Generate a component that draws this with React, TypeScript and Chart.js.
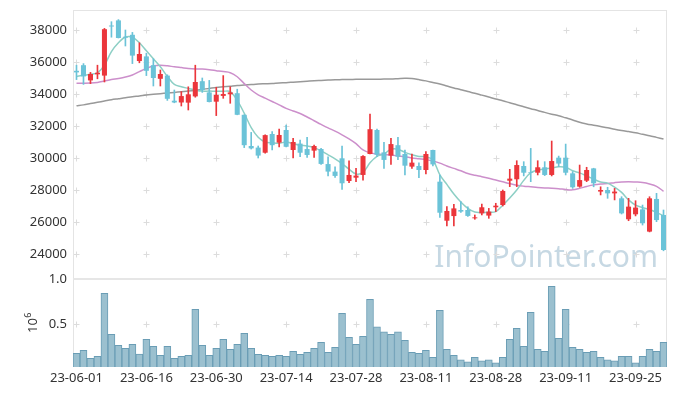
import React, { useEffect, useRef } from 'react';
import { Chart, registerables } from 'chart.js';

Chart.register(...registerables);

const DATES = [
  '23-06-01', '23-06-02', '23-06-05', '23-06-07', '23-06-08', '23-06-09', '23-06-12', '23-06-13', '23-06-14', '23-06-15',
  '23-06-16', '23-06-19', '23-06-20', '23-06-21', '23-06-22', '23-06-23', '23-06-26', '23-06-27', '23-06-28', '23-06-29',
  '23-06-30', '23-07-03', '23-07-04', '23-07-05', '23-07-06', '23-07-07', '23-07-10', '23-07-11', '23-07-12', '23-07-13',
  '23-07-14', '23-07-17', '23-07-18', '23-07-19', '23-07-20', '23-07-21', '23-07-24', '23-07-25', '23-07-26', '23-07-27',
  '23-07-28', '23-07-31', '23-08-01', '23-08-02', '23-08-03', '23-08-04', '23-08-07', '23-08-08', '23-08-09', '23-08-10',
  '23-08-11', '23-08-14', '23-08-16', '23-08-17', '23-08-18', '23-08-21', '23-08-22', '23-08-23', '23-08-24', '23-08-25',
  '23-08-28', '23-08-29', '23-08-30', '23-08-31', '23-09-01', '23-09-04', '23-09-05', '23-09-06', '23-09-07', '23-09-08',
  '23-09-11', '23-09-12', '23-09-13', '23-09-14', '23-09-15', '23-09-18', '23-09-19', '23-09-20', '23-09-21', '23-09-22',
  '23-09-25', '23-09-26', '23-09-27', '23-10-04', '23-10-05',
];

const OPEN = [
  35450, 35800, 34850, 35230, 35150, 38280, 38600, 37580, 37700, 36060,
  36350, 35800, 34950, 35150, 33580, 33470, 33460, 33850, 34800, 34100,
  33520, 33880, 33980, 34050, 32700, 30750, 30650, 30330, 31500, 30960,
  31750, 30500, 30900, 30560, 30460, 30560, 29620, 29150, 29980, 28560,
  28770, 28940, 30250, 31750, 30350, 30150, 30800, 30250, 29460, 29500,
  29250, 30500, 28520, 26080, 26370, 26750, 26750, 26230, 26540, 26400,
  26920, 27060, 28580, 28670, 29500, 29120, 29080, 29420, 28940, 30020,
  30020, 29040, 28210, 28580, 29350, 27900, 28000, 27790, 27480, 26170,
  26480, 26790, 25400, 27440, 26440,
];
const HIGH = [
  35800, 35900, 35350, 35800, 38100, 38520, 38650, 38000, 37850, 37200,
  36550, 36200, 35500, 35200, 34250, 34150, 34450, 35800, 35000, 34850,
  34420, 35150, 34450, 34300, 32700, 31600, 30750, 31450, 31650, 31800,
  32050, 31230, 31120, 31290, 30800, 30600, 30080, 29450, 30750, 29830,
  29350, 30150, 32750, 31800, 30980, 31230, 31290, 30500, 30250, 29700,
  30400, 30500, 28940, 26960, 27100, 27270, 26950, 26440, 27120, 26850,
  27170, 28000, 29290, 29830, 29770, 30600, 29830, 29770, 31060, 30120,
  30870, 29150, 29560, 29420, 29360, 28200, 28170, 28100, 27580, 27480,
  27330, 27060, 27580, 27790, 26750,
];
const LOW = [
  34900, 34600, 34650, 34950, 34750, 37550, 37500, 37000, 35900, 35950,
  35150, 34500, 34500, 33600, 33450, 33250, 33000, 33800, 34100, 33500,
  32650, 33730, 33420, 32700, 30650, 30560, 30000, 30300, 30500, 30700,
  30700, 30000, 30080, 30040, 30040, 29600, 28880, 28790, 28040, 28460,
  28520, 28620, 30250, 30080, 29350, 29600, 29900, 28940, 29350, 28770,
  29000, 29500, 26290, 25750, 25750, 26600, 26350, 26170, 26440, 26230,
  26650, 27000, 28210, 28210, 28880, 28520, 28940, 28900, 28880, 29460,
  28940, 28100, 28170, 28520, 28200, 27690, 27480, 27380, 26500, 26080,
  26380, 25810, 25380, 26020, 24200,
];
const CLOSE = [
  35350, 35100, 35250, 35330, 38050, 38220, 37500, 37520, 36400, 36500,
  35450, 35000, 35250, 33700, 33470, 33870, 33980, 34750, 34250, 33500,
  33940, 34000, 34100, 32700, 30800, 30600, 30150, 31430, 30800, 31440,
  30700, 31000, 30330, 30190, 30750, 29630, 29150, 28880, 28420, 28940,
  28900, 30120, 31800, 30200, 29880, 30870, 30080, 29520, 29710, 29250,
  30250, 29600, 26580, 26690, 26850, 26650, 26380, 26290, 26920, 26650,
  27020, 27940, 28710, 29560, 29080, 29080, 29420, 28940, 29810, 29650,
  29080, 28170, 28620, 29250, 28420, 28000, 27790, 27900, 26540, 26960,
  26900, 25920, 27480, 26120, 24250,
];

// trading volume, in units of 10^6 shares
const VOLUME = [
  0.18, 0.213, 0.125, 0.147, 0.842, 0.39, 0.268, 0.235, 0.279, 0.172,
  0.334, 0.257, 0.158, 0.257, 0.125, 0.147, 0.158, 0.665, 0.268, 0.158,
  0.235, 0.334, 0.224, 0.279, 0.40, 0.235, 0.169, 0.158, 0.147, 0.158,
  0.147, 0.202, 0.169, 0.191, 0.235, 0.301, 0.191, 0.246, 0.621, 0.356,
  0.279, 0.367, 0.776, 0.471, 0.416, 0.39, 0.416, 0.323, 0.191, 0.18,
  0.213, 0.136, 0.654, 0.224, 0.158, 0.109, 0.087, 0.136, 0.098, 0.109,
  0.076, 0.136, 0.334, 0.456, 0.257, 0.632, 0.224, 0.202, 0.919, 0.345,
  0.665, 0.246, 0.224, 0.191, 0.202, 0.136, 0.109, 0.098, 0.147, 0.147,
  0.076, 0.147, 0.224, 0.202, 0.301,
];

const MA5 = [
  35100, 35170, 35230, 35320, 35800, 36650, 37200, 37560, 37550, 37200,
  36700, 36200, 35700, 35100, 34600, 34450, 34350, 34250, 34180, 34180,
  34170, 34170, 34150, 33600, 32800, 31900, 31300, 31000, 30950, 30920,
  31000, 30900, 30800, 30750, 30650, 30450, 30200, 29950, 29650, 29300,
  29000, 29100, 29700, 30100, 30250, 30550, 30550, 30350, 30200, 30100,
  30080, 29880, 28950, 28350, 27750, 27250, 26850, 26620, 26600, 26610,
  26650, 27050, 27500, 28000, 28600, 29080, 29250, 29320, 29380, 29450,
  29420, 29200, 29070, 28880, 28680, 28500, 28430, 28180, 27850, 27380,
  27050, 26900, 26780, 26600, 26380,
];
const MA20 = [
  34670, 34670, 34680, 34720, 34810, 34900, 34970, 35060, 35190, 35400,
  35600, 35750, 35790, 35760, 35700, 35650, 35600, 35570, 35560, 35520,
  35460, 35400, 35330, 35080, 34650, 34250, 33950, 33740, 33530, 33320,
  33100, 32940, 32780, 32560, 32330, 32100, 31880, 31680, 31450, 31200,
  30900, 30500, 30320, 30250, 30210, 30180, 30130, 30080, 30000, 29950,
  29900, 29820, 29680, 29500, 29350, 29200, 29030, 28920, 28830, 28730,
  28620, 28510, 28400, 28300, 28240, 28200, 28160, 28130, 28110, 28080,
  28030, 28010, 28100, 28220, 28320, 28380, 28410, 28460, 28500, 28520,
  28500, 28470, 28380, 28230, 27920,
];
const MA120 = [
  33270, 33320, 33400, 33480, 33560, 33640, 33700, 33760, 33830, 33880,
  33940, 33980, 34020, 34060, 34100, 34140, 34180, 34230, 34290, 34350,
  34410, 34450, 34490, 34530, 34560, 34590, 34620, 34640, 34660, 34690,
  34710, 34740, 34770, 34800, 34830, 34850, 34870, 34890, 34900, 34910,
  34915, 34920, 34920, 34925, 34930, 34940, 34960, 34980, 34970, 34900,
  34820, 34720, 34620, 34500, 34380, 34270, 34150, 34050, 33930, 33810,
  33690, 33580, 33450, 33330, 33200, 33080, 32970, 32850, 32740, 32640,
  32510, 32380, 32230, 32130, 32050, 31970, 31890, 31800, 31720, 31650,
  31580, 31480, 31390, 31290, 31190,
];

const PRICE_TICKS = [24000, 26000, 28000, 30000, 32000, 34000, 36000, 38000];
const VOLUME_TICKS = [0.5, 1.0];
const WATERMARK = 'InfoPointer.com';
const VOLUME_UNIT_BASE = '10';
const VOLUME_UNIT_EXP = '6';

const UP = '#eb363b';
const DOWN = '#6bc3d8';
const FONT = '"Noto Sans", "DejaVu Sans", sans-serif';
const TEXT = '#333333';

export default function App() {
  const ref = useRef<HTMLCanvasElement>(null);

  useEffect(() => {
    document.body.style.margin = '0';
    const canvas = ref.current;
    if (!canvas) return;

    const candleColors = CLOSE.map((c, i) => (c >= OPEN[i] ? UP : DOWN));

    const decor = {
      id: 'decor',
      beforeDatasetsDraw(chart: any) {
        const { ctx, chartArea: a, scales } = chart;
        const xs = scales.x;
        const ys = scales.y;
        const yv = scales.yv;
        ctx.save();
        // watermark
        ctx.font = `30px ${FONT}`;
        ctx.fillStyle = 'rgba(184, 206, 220, 0.8)';
        ctx.textAlign = 'right';
        ctx.textBaseline = 'alphabetic';
        ctx.fillText(WATERMARK, a.right - 9, ys.bottom - 12);

        // grid crosses
        ctx.strokeStyle = '#dcdcdc';
        ctx.lineWidth = 1;
        const gx: number[] = [];
        DATES.forEach((_, i) => {
          if (i % 10 === 0) gx.push(Math.round(xs.getPixelForValue(i)) + 0.5);
        });
        const gy: number[] = PRICE_TICKS.map((v) => Math.round(ys.getPixelForValue(v)) + 0.5);
        gy.push(Math.round(yv.getPixelForValue(0.5)) + 0.5);
        ctx.beginPath();
        for (const px of gx) {
          for (const py of gy) {
            ctx.moveTo(px - 3, py);
            ctx.lineTo(px + 3, py);
            ctx.moveTo(px, py - 3);
            ctx.lineTo(px, py + 3);
          }
        }
        ctx.stroke();

        // frame
        ctx.strokeStyle = '#e4e4e4';
        ctx.lineWidth = 1;
        ctx.strokeRect(a.left + 0.5, a.top + 0.5, a.right - a.left - 1, a.bottom - a.top - 1);
        ctx.restore();
      },
      afterDatasetsDraw(chart: any) {
        const { ctx, chartArea: a, scales } = chart;
        const ys = scales.y;
        ctx.save();
        ctx.strokeStyle = '#e6e6e6';
        ctx.lineWidth = 2;
        ctx.beginPath();
        ctx.moveTo(a.left, ys.bottom);
        ctx.lineTo(a.right, ys.bottom);
        ctx.stroke();
        ctx.restore();
      },
      afterDraw(chart: any) {
        const { ctx, scales } = chart;
        const yv = scales.yv;
        const cy = (yv.top + yv.bottom) / 2;
        ctx.save();
        ctx.translate(37, cy + 10);
        ctx.rotate(-Math.PI / 2);
        ctx.fillStyle = TEXT;
        ctx.textBaseline = 'alphabetic';
        ctx.textAlign = 'left';
        ctx.font = `13px ${FONT}`;
        ctx.fillText(VOLUME_UNIT_BASE, 0, 0);
        const w = ctx.measureText(VOLUME_UNIT_BASE).width;
        ctx.font = `9px ${FONT}`;
        ctx.fillText(VOLUME_UNIT_EXP, w + 0.5, -6);
        ctx.restore();
      },
    };

    const noPad = (s: any, width: number) => {
      s.width = width;
      s.paddingTop = 0;
      s.paddingBottom = 0;
    };

    const chart = new Chart(canvas, {
      type: 'bar',
      data: {
        labels: DATES,
        datasets: [
          {
            type: 'line',
            label: 'MA5',
            data: MA5,
            yAxisID: 'y',
            borderColor: '#8dcfc5',
            borderWidth: 1.5,
            pointRadius: 0,
            tension: 0.35,
            order: 5,
          } as any,
          {
            type: 'line',
            label: 'MA20',
            data: MA20,
            yAxisID: 'y',
            borderColor: '#cc8fcb',
            borderWidth: 1.5,
            pointRadius: 0,
            tension: 0.35,
            order: 6,
          },
          {
            type: 'line',
            label: 'MA120',
            data: MA120,
            yAxisID: 'y',
            borderColor: '#999999',
            borderWidth: 1.5,
            pointRadius: 0,
            tension: 0.35,
            order: 7,
          },
          {
            type: 'bar',
            label: 'wick',
            data: HIGH.map((h, i) => [LOW[i], h]),
            yAxisID: 'y',
            backgroundColor: candleColors,
            barThickness: 1,
            grouped: false,
            order: 2,
          },
          {
            type: 'bar',
            label: 'body',
            data: OPEN.map((o, i) => [o, CLOSE[i]]),
            yAxisID: 'y',
            backgroundColor: candleColors,
            barPercentage: 0.72,
            categoryPercentage: 1,
            grouped: false,
            order: 1,
          },
          {
            type: 'bar',
            label: 'volume',
            data: VOLUME,
            yAxisID: 'yv',
            backgroundColor: '#9bc0cf',
            borderColor: '#6a9db5',
            borderWidth: 1,
            barPercentage: 1,
            categoryPercentage: 1,
            grouped: false,
            order: 8,
          },
        ] as any,
      },
      options: {
        responsive: false,
        animation: false,
        devicePixelRatio: 1,
        layout: { padding: { left: 0, right: 10, top: 10, bottom: 0 } },
        plugins: { legend: { display: false }, tooltip: { enabled: false } },
        scales: {
          x: {
            type: 'category',
            offset: true,
            grid: { display: false, drawTicks: false },
            border: { display: false },
            ticks: {
              autoSkip: false,
              maxRotation: 0,
              minRotation: 0,
              padding: 3,
              color: TEXT,
              font: { family: FONT, size: 13 },
              callback: (_v: any, i: number) => (i % 10 === 0 ? DATES[i] : ''),
            },
            afterFit: (s: any) => {
              s.height = 29;
              s.paddingLeft = 0;
              s.paddingRight = 0;
            },
          },
          yv: {
            type: 'linear',
            position: 'left',
            stack: 'panels',
            stackWeight: 88,
            weight: 0,
            min: 0.029,
            max: 1.0,
            grid: { display: false, drawTicks: false },
            border: { display: false },
            ticks: {
              padding: 6,
              color: TEXT,
              font: { family: FONT, size: 13 },
              callback: (v: any) => Number(v).toFixed(1),
            },
            afterBuildTicks: (s: any) => {
              s.ticks = VOLUME_TICKS.map((v) => ({ value: v }));
            },
            afterFit: (s: any) => noPad(s, 73),
          },
          y: {
            type: 'linear',
            position: 'left',
            stack: 'panels',
            stackWeight: 269,
            weight: 1,
            min: 22437,
            max: 39250,
            grid: { display: false, drawTicks: false },
            border: { display: false },
            ticks: {
              padding: 6,
              color: TEXT,
              font: { family: FONT, size: 13 },
              callback: (v: any) => String(v),
            },
            afterBuildTicks: (s: any) => {
              s.ticks = PRICE_TICKS.map((v) => ({ value: v }));
            },
            afterFit: (s: any) => noPad(s, 73),
          },
        },
      } as any,
      plugins: [decor],
    });

    return () => chart.destroy();
  }, []);

  return (
    <div style={{ width: 677, height: 396 }}>
      <canvas ref={ref} width={677} height={396} style={{ display: 'block' }} />
    </div>
  );
}
